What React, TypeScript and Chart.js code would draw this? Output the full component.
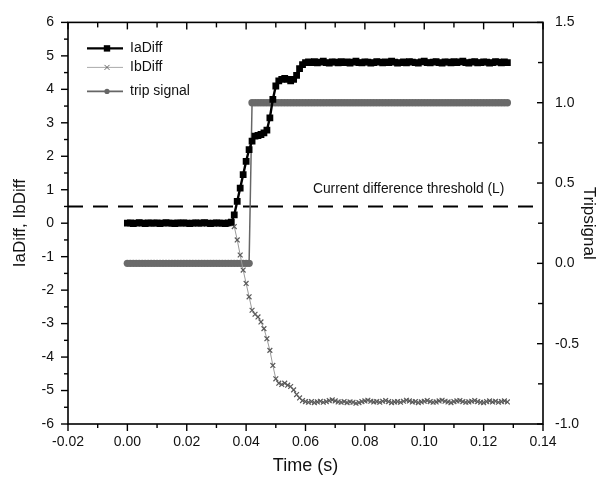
import React, { useEffect, useRef } from "react";
import { Chart, registerables } from "chart.js";

Chart.register(...registerables);

// ---------------- data ----------------
const time = [
  0.000, 0.001, 0.002, 0.003, 0.004, 0.005, 0.006, 0.007, 0.008, 0.009,
  0.010, 0.011, 0.012, 0.013, 0.014, 0.015, 0.016, 0.017, 0.018, 0.019,
  0.020, 0.021, 0.022, 0.023, 0.024, 0.025, 0.026, 0.027, 0.028, 0.029,
  0.030, 0.031, 0.032, 0.033, 0.034, 0.035, 0.036, 0.037, 0.038, 0.039,
  0.040, 0.041, 0.042, 0.043, 0.044, 0.045, 0.046, 0.047, 0.048, 0.049,
  0.050, 0.051, 0.052, 0.053, 0.054, 0.055, 0.056, 0.057, 0.058, 0.059,
  0.060, 0.061, 0.062, 0.063, 0.064, 0.065, 0.066, 0.067, 0.068, 0.069,
  0.070, 0.071, 0.072, 0.073, 0.074, 0.075, 0.076, 0.077, 0.078, 0.079,
  0.080, 0.081, 0.082, 0.083, 0.084, 0.085, 0.086, 0.087, 0.088, 0.089,
  0.090, 0.091, 0.092, 0.093, 0.094, 0.095, 0.096, 0.097, 0.098, 0.099,
  0.100, 0.101, 0.102, 0.103, 0.104, 0.105, 0.106, 0.107, 0.108, 0.109,
  0.110, 0.111, 0.112, 0.113, 0.114, 0.115, 0.116, 0.117, 0.118, 0.119,
  0.120, 0.121, 0.122, 0.123, 0.124, 0.125, 0.126, 0.127, 0.128,
];

const iaDiff = [
  0.00, 0.01, -0.01, 0.00, 0.02, 0.00, -0.01, 0.01, 0.00, 0.00,
  0.01, -0.01, 0.00, 0.02, 0.00, 0.00, -0.01, 0.01, 0.00, 0.01,
  0.00, -0.01, 0.00, 0.01, 0.00, 0.00, 0.02, 0.00, -0.01, 0.00,
  0.01, 0.00, 0.00, -0.01, 0.01, 0.03,
  0.25, 0.65, 1.05, 1.45, 1.85, 2.2, 2.45, 2.6, 2.62, 2.65,
  2.7, 2.78, 3.15, 3.7, 4.1, 4.25, 4.3, 4.33, 4.3, 4.25,
  4.3, 4.42, 4.62, 4.74, 4.8,
  4.82, 4.80, 4.83, 4.79, 4.81, 4.84, 4.80, 4.78, 4.82, 4.81,
  4.79, 4.83, 4.80, 4.82, 4.78, 4.81, 4.84, 4.80, 4.79, 4.82,
  4.81, 4.78, 4.80, 4.83, 4.81, 4.79, 4.82, 4.80, 4.84, 4.81,
  4.78, 4.80, 4.82, 4.79, 4.83, 4.81, 4.80, 4.78, 4.82, 4.84,
  4.80, 4.79, 4.81, 4.83, 4.80, 4.78, 4.82, 4.81, 4.79, 4.83,
  4.80, 4.82, 4.84, 4.80, 4.78, 4.81, 4.83, 4.79, 4.80, 4.82,
  4.81, 4.78, 4.80, 4.83, 4.81, 4.79, 4.82, 4.80,
];

const ibDiff = [
  0.00, -0.01, 0.00, 0.01, 0.00, 0.00, -0.01, 0.00, 0.01, 0.00,
  0.00, 0.01, -0.01, 0.00, 0.00, 0.01, 0.00, -0.01, 0.00, 0.00,
  0.01, 0.00, 0.00, -0.01, 0.00, 0.01, 0.00, 0.00, -0.01, 0.00,
  0.00, 0.01, 0.00, -0.01, 0.00, -0.02,
  -0.1, -0.5, -0.95, -1.4, -1.8, -2.2, -2.6, -2.72, -2.8, -2.95,
  -3.15, -3.45, -3.8, -4.25, -4.65, -4.78, -4.82, -4.78, -4.84, -4.88,
  -4.98, -5.12, -5.22, -5.3, -5.33,
  -5.35, -5.33, -5.36, -5.34, -5.32, -5.35, -5.33, -5.30, -5.28, -5.31,
  -5.34, -5.35, -5.33, -5.36, -5.34, -5.35, -5.38, -5.36, -5.33, -5.31,
  -5.29, -5.32, -5.34, -5.33, -5.35, -5.32, -5.30, -5.33, -5.36, -5.34,
  -5.33, -5.35, -5.32, -5.29, -5.31, -5.34, -5.33, -5.36, -5.34, -5.32,
  -5.30, -5.33, -5.35, -5.34, -5.31, -5.29, -5.32, -5.34, -5.36, -5.33,
  -5.31, -5.30, -5.33, -5.35, -5.34, -5.32, -5.30, -5.33, -5.35, -5.36,
  -5.33, -5.31, -5.34, -5.32, -5.35, -5.33, -5.31, -5.34,
];

const tripSignal = [
  0, 0, 0, 0, 0, 0, 0, 0, 0, 0,
  0, 0, 0, 0, 0, 0, 0, 0, 0, 0,
  0, 0, 0, 0, 0, 0, 0, 0, 0, 0,
  0, 0, 0, 0, 0, 0, 0, 0, 0, 0,
  0, 0, 1, 1, 1, 1, 1, 1, 1, 1,
  1, 1, 1, 1, 1, 1, 1, 1, 1, 1,
  1, 1, 1, 1, 1, 1, 1, 1, 1, 1,
  1, 1, 1, 1, 1, 1, 1, 1, 1, 1,
  1, 1, 1, 1, 1, 1, 1, 1, 1, 1,
  1, 1, 1, 1, 1, 1, 1, 1, 1, 1,
  1, 1, 1, 1, 1, 1, 1, 1, 1, 1,
  1, 1, 1, 1, 1, 1, 1, 1, 1, 1,
  1, 1, 1, 1, 1, 1, 1, 1, 1,
];

const seriesLabels = ["IaDiff", "IbDiff", "trip signal"];
const thresholdValue = 0.5;
const thresholdLabel = "Current difference threshold (L)";
const xRange = [-0.02, 0.14];
const yRange = [-6, 6];
const y2Range = [-1, 1.5];
const xMajorTicks = [-0.02, 0, 0.02, 0.04, 0.06, 0.08, 0.1, 0.12, 0.14];
const xMinorTicks = [-0.01, 0.01, 0.03, 0.05, 0.07, 0.09, 0.11, 0.13];
const yMajorTicks = [-6, -5, -4, -3, -2, -1, 0, 1, 2, 3, 4, 5, 6];
const yMinorTicks = [-5.5, -4.5, -3.5, -2.5, -1.5, -0.5, 0.5, 1.5, 2.5, 3.5, 4.5, 5.5];
const y2MajorTicks = [-1, -0.5, 0, 0.5, 1, 1.5];
const y2MinorTicks = [-0.75, -0.25, 0.25, 0.75, 1.25];

const NARROW = "'Liberation Sans Narrow', 'Liberation Sans', Arial, sans-serif";
const SANS = "'Liberation Sans', Arial, sans-serif";

const decorPlugin = {
  id: "decor",
  afterDraw(chart: any) {
    const { ctx, chartArea: a, scales } = chart;
    const xs = scales.x, ys = scales.y, y2 = scales.y2;
    ctx.save();
    ctx.strokeStyle = "#000";
    ctx.lineWidth = 1.6;
    ctx.strokeRect(a.left, a.top, a.right - a.left, a.bottom - a.top);
    ctx.lineWidth = 1.4;
    const seg = (x1: number, y1: number, x2: number, y2_: number) => {
      ctx.beginPath();
      ctx.moveTo(x1, y1);
      ctx.lineTo(x2, y2_);
      ctx.stroke();
    };
    xMajorTicks.forEach((v) => {
      const p = xs.getPixelForValue(v);
      seg(p, a.bottom, p, a.bottom + 7);
      seg(p, a.top, p, a.top + 7);
    });
    xMinorTicks.forEach((v) => {
      const p = xs.getPixelForValue(v);
      seg(p, a.bottom, p, a.bottom + 4);
      seg(p, a.top, p, a.top + 5);
    });
    yMajorTicks.forEach((v) => {
      const p = ys.getPixelForValue(v);
      seg(a.left - 7, p, a.left, p);
    });
    yMinorTicks.forEach((v) => {
      const p = ys.getPixelForValue(v);
      seg(a.left - 4, p, a.left, p);
    });
    y2MajorTicks.forEach((v) => {
      const p = y2.getPixelForValue(v);
      seg(a.right - 6, p, a.right, p);
    });
    y2MinorTicks.forEach((v) => {
      const p = y2.getPixelForValue(v);
      seg(a.right - 5, p, a.right, p);
    });

    // threshold label
    ctx.fillStyle = "#111";
    ctx.font = `13.8px ${SANS}`;
    ctx.textBaseline = "middle";
    ctx.textAlign = "left";
    ctx.fillText(thresholdLabel, xs.getPixelForValue(0.0625), ys.getPixelForValue(thresholdValue) - 17);

    // legend
    const lx0 = a.left + 19, lx1 = a.left + 55, mx = a.left + 39, tx = a.left + 62;
    const rows = [a.top + 26, a.top + 45, a.top + 69];
    ctx.font = `14px ${SANS}`;
    // IaDiff
    ctx.strokeStyle = "#000"; ctx.lineWidth = 2.4;
    seg(lx0, rows[0], lx1, rows[0]);
    ctx.fillStyle = "#000";
    ctx.fillRect(mx - 3.2, rows[0] - 3.2, 6.4, 6.4);
    // IbDiff
    ctx.strokeStyle = "#aaa"; ctx.lineWidth = 1;
    seg(lx0, rows[1], lx1, rows[1]);
    ctx.strokeStyle = "#666";
    seg(mx - 2.5, rows[1] - 2.5, mx + 2.5, rows[1] + 2.5);
    seg(mx - 2.5, rows[1] + 2.5, mx + 2.5, rows[1] - 2.5);
    // trip
    ctx.strokeStyle = "#666"; ctx.lineWidth = 1.6;
    seg(lx0, rows[2], lx1, rows[2]);
    ctx.fillStyle = "#666";
    ctx.beginPath(); ctx.arc(mx, rows[2], 2.6, 0, Math.PI * 2); ctx.fill();
    ctx.fillStyle = "#111";
    seriesLabels.forEach((s, i) => ctx.fillText(s, tx, rows[i]));
    ctx.restore();
  },
};

export default function App() {
  const ref = useRef<HTMLCanvasElement>(null);
  useEffect(() => {
    if (!ref.current) return;
    const pts = (vals: number[]) => time.map((t, i) => ({ x: t, y: vals[i] }));
    const chart = new Chart(ref.current, {
      type: "line",
      data: {
        datasets: [
          {
            label: seriesLabels[0], data: pts(iaDiff), yAxisID: "y",
            borderColor: "#000", borderWidth: 2.4, pointStyle: "rect", pointRadius: 4.8,
            pointBackgroundColor: "#000", pointBorderColor: "#000", pointBorderWidth: 0,
            order: 1, tension: 0,
          },
          {
            label: seriesLabels[1], data: pts(ibDiff), yAxisID: "y",
            borderColor: "#9a9a9a", borderWidth: 1, pointStyle: "crossRot", pointRadius: 3.4,
            pointBorderColor: "#5a5a5a", pointBorderWidth: 1.2, pointBackgroundColor: "#5a5a5a",
            order: 2, tension: 0,
          },
          {
            label: seriesLabels[2], data: pts(tripSignal), yAxisID: "y2",
            borderColor: "#666", borderWidth: 1.5, pointStyle: "circle", pointRadius: 3.7,
            pointBackgroundColor: "#6a6a6a", pointBorderWidth: 0,
            order: 3, tension: 0,
          },
          {
            label: "threshold",
            data: [{ x: xRange[0], y: thresholdValue }, { x: xRange[1], y: thresholdValue }],
            yAxisID: "y", borderColor: "#000", borderWidth: 2, borderDash: [15, 10],
            pointRadius: 0, order: 4,
          },
        ],
      } as any,
      options: {
        responsive: false,
        animation: false,
        layout: { padding: { top: 18, left: 0, right: 0, bottom: 0 } },
        plugins: { legend: { display: false }, tooltip: { enabled: false } },
        scales: {
          x: {
            type: "linear", position: "bottom", min: xRange[0], max: xRange[1],
            ticks: {
              stepSize: 0.02, autoSkip: false, maxRotation: 0, padding: 10,
              color: "#111", font: { size: 14, family: NARROW },
              callback: (v: any) => Number(v).toFixed(2),
            },
            grid: { display: false, drawTicks: false },
            border: { display: false },
            title: {
              display: true, text: "Time (s)", color: "#111",
              font: { size: 18, family: SANS }, padding: { top: 0, bottom: 6 },
            },
            afterFit: (s: any) => { s.height = 59; },
          },
          y: {
            type: "linear", position: "left", min: yRange[0], max: yRange[1],
            ticks: {
              stepSize: 1, padding: 14, color: "#111", font: { size: 14, family: NARROW },
            },
            grid: { display: false, drawTicks: false },
            border: { display: false },
            title: {
              display: true, text: "IaDiff, IbDiff", color: "#111",
              font: { size: 17, family: NARROW }, padding: { top: 10, bottom: 0 },
            },
            afterFit: (s: any) => { s.width = 68; },
          },
          y2: {
            type: "linear", position: "right", min: y2Range[0], max: y2Range[1],
            ticks: {
              stepSize: 0.5, padding: 12, color: "#111", font: { size: 14, family: NARROW },
              callback: (v: any) => Number(v).toFixed(1),
            },
            grid: { display: false, drawTicks: false },
            border: { display: false },
            title: {
              display: true, text: "Tripsignal", color: "#111",
              font: { size: 17, family: NARROW, lineHeight: 1 }, padding: { top: 0, bottom: 0 },
            },
            afterFit: (s: any) => { s.width = 54; },
          },
        },
      } as any,
      plugins: [decorPlugin],
    });
    return () => chart.destroy();
  }, []);
  return (
    <div style={{ position: "absolute", left: 0, top: 0, width: 597, height: 483, background: "#fff" }}>
      <canvas ref={ref} width={597} height={483} style={{ display: "block" }} />
    </div>
  );
}
